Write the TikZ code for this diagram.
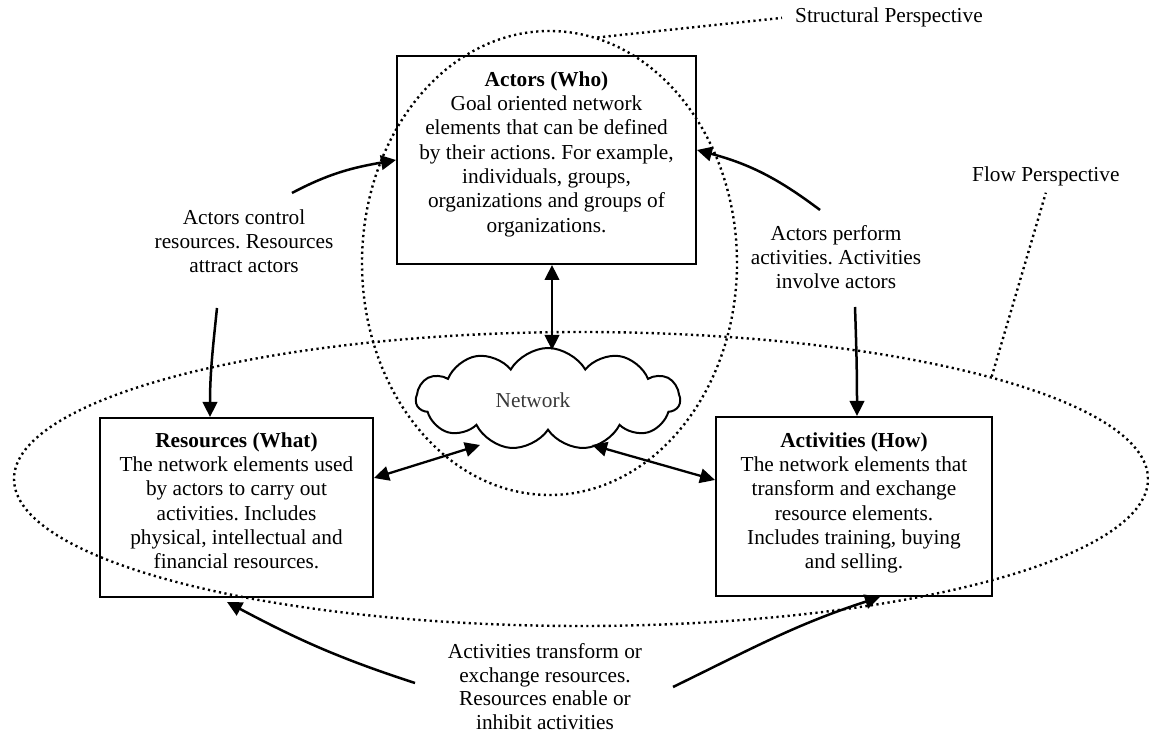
\documentclass[tikz,border=0pt]{standalone}
\usepackage{fontspec}
\setmainfont{Liberation Serif}
\usetikzlibrary{arrows.meta,shapes.geometric,shapes.symbols}
\frenchspacing
\begin{document}
\begin{tikzpicture}[x=1pt,y=1pt,
  txt/.style={font=\fontsize{21.3}{24.3}\selectfont, align=center, inner sep=0pt},
  box/.style={draw, line width=2pt, inner sep=0pt},
  persp/.style={draw, line width=2.4pt, dash pattern=on 2.2pt off 3.4pt},
  conn/.style={line width=2.5pt, -{Triangle[length=15pt,width=14.5pt]}},
  dblconn/.style={line width=2.3pt, {Triangle[length=15pt,width=14.5pt]}-{Triangle[length=15pt,width=14.5pt]}},
]
\useasboundingbox (0,0) rectangle (1149,736);

% the two perspectives
\node[persp, ellipse, minimum width=375pt, minimum height=464pt, inner sep=0pt] (structural) at (549.5,473) {};
\node[persp, ellipse, minimum width=1134pt, minimum height=294pt, inner sep=0pt] (flow) at (581,257) {};
\node[txt, anchor=base west] (structlabel) at (795,713) {Structural Perspective};
\node[txt, anchor=base west] (flowlabel) at (972,554) {Flow Perspective};
\draw[persp] (structural.78) -- ([xshift=-13pt]structlabel.west);
\draw[persp] (flow.14.3) -- ([yshift=-6pt]flowlabel.south);

% the three network elements
\node[box, minimum width=299pt, minimum height=208pt] (actors) at (546.5,576) {};
\node[box, minimum width=273pt, minimum height=179pt] (resources) at (236.5,228.5) {};
\node[box, minimum width=276pt, minimum height=179pt] (activities) at (854,229.5) {};

\node[txt, anchor=north] (actorstext) at ([yshift=-14pt]actors.north)
  {\strut\textbf{Actors (Who)}\\Goal oriented network\\elements that can be defined\\by their actions. For example,\\individuals, groups,\\organizations and groups of\\organizations.};
\node[txt, anchor=north] (resourcestext) at ([yshift=-13pt]resources.north)
  {\strut\textbf{Resources (What)}\\The network elements used\\by actors to carry out\\activities. Includes\\physical, intellectual and\\financial resources.};
\node[txt, anchor=north] (activitiestext) at ([yshift=-14pt]activities.north)
  {\strut\textbf{Activities (How)}\\The network elements that\\transform and exchange\\resource elements.\\Includes training, buying\\and selling.};

% the network cloud
\node[cloud, draw, line width=2pt, cloud puffs=11, cloud puff arc=120, aspect=2.6,
      minimum width=264pt, minimum height=102pt, inner sep=0pt] (net) at (548,337) {};
\node[txt, text=black!78] (netlabel) at (533,336) {Network};

% relation labels
\node[txt, anchor=north] (ctrl) at (244,529) {\strut Actors control\\resources. Resources\\attract actors};
\node[txt, anchor=north] (perf) at (836,513) {\strut Actors perform\\activities. Activities\\involve actors};
\node[txt, anchor=north, font=\fontsize{21.3}{23.6}\selectfont] (trans) at (545,94)
  {\strut Activities transform or\\exchange resources.\\Resources enable or\\inhibit activities};

\coordinate (t1) at (292,543);
\coordinate (t2) at (217,428);
\coordinate (t3) at (820,526);
\coordinate (t4) at (855,429);
\coordinate (t5) at (415,53);
\coordinate (t6) at (673,49);

\draw[conn] (t1) to[out=28,in=190] (actors.west);
\draw[conn] (t2) to[out=-96,in=90] ([xshift=-26.5pt]resources.north);
\draw[conn] (t3) to[out=143,in=-15] ([yshift=10pt]actors.east);
\draw[conn] (t4) to[out=-88,in=90] ([xshift=3pt]activities.north);
\draw[conn] (t5) to[out=162,in=-28] ([xshift=-9.5pt,yshift=-4pt]resources.south);
\draw[conn] (t6) to[out=26,in=198] ([xshift=26pt]activities.south);

% links to the network
\draw[dblconn] ([xshift=5.5pt]actors.south) -- ([shift={(4,49)}]net.center);
\draw[dblconn] ([yshift=29.5pt]resources.east) -- ([shift={(-68,-46)}]net.center);
\draw[dblconn] ([yshift=26.5pt]activities.west) -- ([shift={(44,-46)}]net.center);
\end{tikzpicture}
\end{document}
